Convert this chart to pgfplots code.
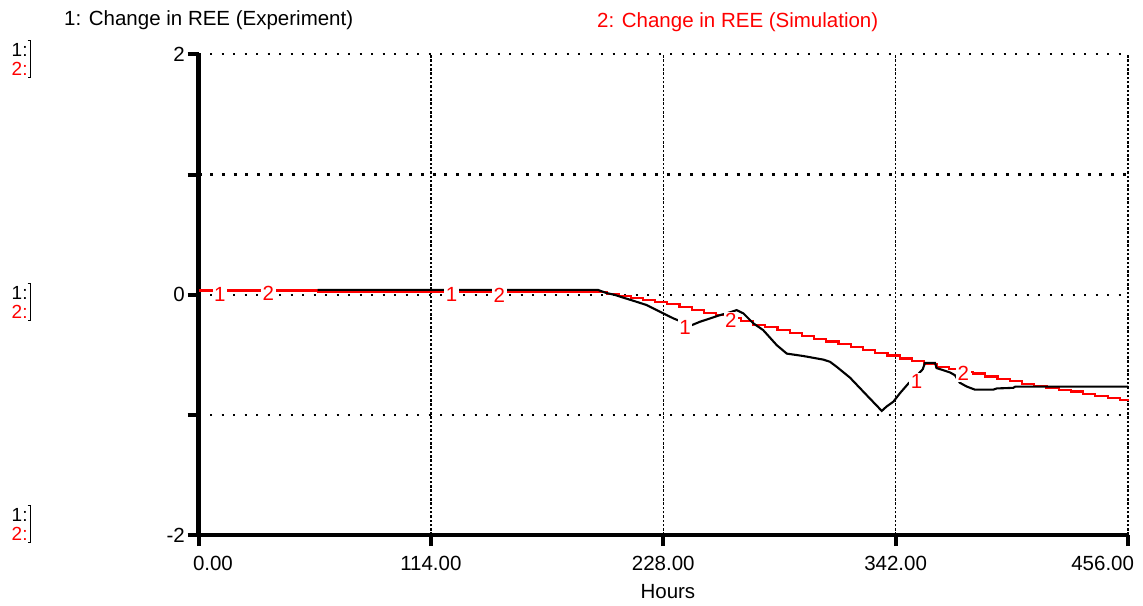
\documentclass[border=0pt]{standalone}
\usepackage{fontspec}
\setmainfont{Liberation Sans}
\usepackage{pgfplots}
\usepackage{pgfplotstable}
\pgfplotsset{compat=1.18}
\definecolor{sred}{RGB}{255,0,0}
\newcommand{\fs}{\fontsize{20.5bp}{24bp}\selectfont}
\newcommand{\fss}{\fontsize{19bp}{22bp}\selectfont}
\pgfplotstableread{
h v
0 0.035
58.5 0.0225
200.5 0.005
206 -0.01
212 -0.03
218 -0.045
224 -0.06
230 -0.08
236 -0.10
242 -0.125
248 -0.15
254 -0.17
260 -0.195
266 -0.22
272 -0.25
278 -0.27
284 -0.295
290 -0.32
296 -0.345
302 -0.37
308 -0.39
314 -0.41
320 -0.435
326 -0.46
332 -0.485
338 -0.505
344 -0.53
350 -0.55
356 -0.575
362 -0.60
368 -0.62
374 -0.64
380 -0.655
386 -0.68
392 -0.70
398 -0.72
404 -0.74
410 -0.76
416 -0.775
422 -0.79
428 -0.805
434 -0.825
440 -0.84
446 -0.86
452 -0.875
456 -0.885
}\sim
\pgfplotstableread{
h v
58.5 0.04
196 0.04
200 0.015
204 0.0
207.6 -0.02
213.3 -0.05
219.9 -0.086
224.8 -0.128
228 -0.155
233 -0.197
234.9 -0.21
238.5 -0.235
242 -0.253
246 -0.225
251 -0.197
255.8 -0.17
260 -0.15
264 -0.128
267.3 -0.155
272.2 -0.238
277 -0.294
283.7 -0.42
288.6 -0.49
296.7 -0.51
306.5 -0.54
309.8 -0.558
313.1 -0.6
319.6 -0.69
327.8 -0.836
335.2 -0.967
337.6 -0.93
340.9 -0.89
344.1 -0.82
348.2 -0.74
352 -0.68
355.3 -0.62
356.4 -0.567
361.3 -0.567
362.1 -0.61
368.7 -0.647
371.1 -0.67
373.5 -0.733
377 -0.765
380.9 -0.79
389.9 -0.79
391.6 -0.78
399.7 -0.775
400.7 -0.765
456 -0.765
}\expt
\begin{document}
\begin{tikzpicture}[font=\fs]
\useasboundingbox (0,0) rectangle (1143bp,606bp);
\begin{axis}[
 at={(198.5bp,71bp)}, anchor=south west, scale only axis,
 width=929.5bp, height=480.5bp,
 xmin=0, xmax=456, ymin=-2, ymax=2,
 axis x line*=bottom, axis y line*=left,
 axis line style={line width=4.5bp,-},
 xtick={0,114,228,342,456},
 xticklabels={\makebox[0pt][l]{\hspace{-5.5bp}0.00},114.00,228.00,342.00,\makebox[0pt][r]{456.00\hspace{-6bp}}},
 ytick={-2,-1,0,2}, yticklabels={-2,,0,2},
 extra y ticks={1}, extra y tick labels={},
 extra y tick style={y grid style={line width=3bp, dash pattern=on 3bp off 8.7bp, black}},
 tick align=outside, major tick length=11bp,
 tick style={line width=4bp, black},
 xmajorgrids, ymajorgrids,
 x grid style={line width=1.5bp, dash pattern=on 2.5bp off 1.8bp, black},
 y grid style={line width=2bp, dash pattern=on 2bp off 9.5bp, black},
 xticklabel style={anchor=base, inner sep=0pt, yshift=-24bp},
 yticklabel style={anchor=east, inner sep=0pt, xshift=-2.5bp},
 tick label style={font=\fs},
 xlabel={Hours},
 xlabel style={at={(axis description cs:0.505,0)}, anchor=base, inner sep=0pt, yshift=-63bp, font=\fs},
 clip=false,
]
\addplot[sred, line width=2.2bp, const plot] table[x=h,y=v] {\sim};
\addplot[black, line width=2.1bp] table[x=h,y=v] {\expt};
\tikzset{lab/.style={sred, fill=white, inner sep=1.5bp, font=\fs}}
\node[lab] at (axis cs:10.5,0.006) {1};
\node[lab] at (axis cs:34.3,0.012) {2};
\node[lab] at (axis cs:124.2,0.006) {1};
\node[lab] at (axis cs:147.6,-0.008) {2};
\node[lab] at (axis cs:238.7,-0.272) {1};
\node[lab] at (axis cs:261.1,-0.216) {2};
\node[lab] at (axis cs:352.3,-0.725) {1};
\node[lab] at (axis cs:375.2,-0.655) {2};
\end{axis}
\node[anchor=base west, inner sep=0pt] at (64bp,580bp) {1: Change in REE (Experiment)};
\node[anchor=base west, inner sep=0pt, text=sred] at (597bp,578.5bp) {2: Change in REE (Simulation)};
% scale markers
\foreach \b/\c/\t/\u in {549.5/530.5/565/528.5, 306.5/287.5/322/285.5, 84.5/65.5/100/63.5}{
  \node[anchor=base west, inner sep=0pt, font=\fss] at (11.5bp,\b bp) {1:};
  \node[anchor=base west, inner sep=0pt, font=\fss, text=sred] at (11.5bp,\c bp) {2:};
  \draw[line width=1bp] (27.5bp,\t bp) -- (30.5bp,\t bp) -- (30.5bp,\u bp) -- (27.5bp,\u bp);
}
\end{tikzpicture}
\end{document}
